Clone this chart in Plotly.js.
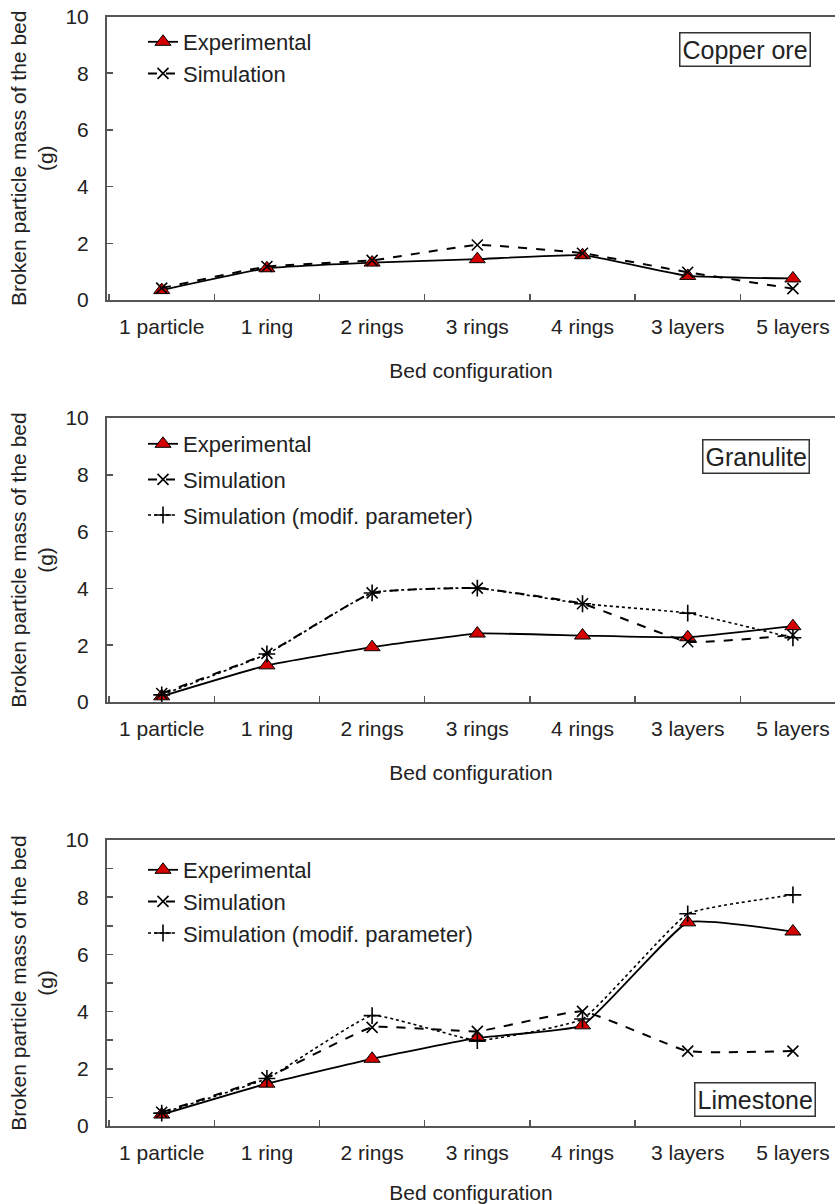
<!DOCTYPE html>
<html><head><meta charset="utf-8">
<script src="https://cdn.plot.ly/plotly-3.0.1.min.js"></script>
<style>html,body{margin:0;padding:0;background:#fff;}#chart{width:835px;height:1204px;}</style>
</head><body><div id="chart"></div>
<script>
const categories = ['1 particle', '1 ring', '2 rings', '3 rings', '4 rings', '3 layers', '5 layers'];

const copperExperimental = [0.35, 1.12, 1.32, 1.44, 1.58, 0.85, 0.76];
const copperSimulation   = [0.42, 1.18, 1.40, 1.94, 1.65, 0.98, 0.40];

const granuliteExperimental = [0.20, 1.29, 1.93, 2.41, 2.34, 2.28, 2.67];
const granuliteSimulation   = [0.30, 1.71, 3.84, 4.01, 3.46, 2.12, 2.36];
const granuliteModified     = [0.25, 1.69, 3.84, 4.01, 3.46, 3.13, 2.26];

const limestoneExperimental = [0.40, 1.48, 2.35, 3.08, 3.52, 7.12, 6.80];
const limestoneSimulation   = [0.48, 1.69, 3.45, 3.31, 4.01, 2.62, 2.62];
const limestoneModified     = [0.45, 1.66, 3.86, 2.99, 3.74, 7.42, 8.08];

const seriesNames = ['Experimental', 'Simulation', 'Simulation (modif. parameter)'];
const panelLabels = ['Copper ore', 'Granulite', 'Limestone'];
const xTitle = 'Bed configuration';
const yTitle = 'Broken particle mass of the bed<br>(g)';

const FONT = '"Liberation Sans", Arial, sans-serif';
const TXT = '#222';
const AX = '#555';
const H = 1204, W = 835, L = 107;
const SMOOTH = 0.35;
function ydom(top, bottom) { return [1 - bottom / H, 1 - top / H]; }
function px(xp) { return (xp - L) / (W - L); }
function py(yp) { return 1 - yp / H; }

function expTrace(y, xa, ya, lg) {
  return { x: categories, y: y, xaxis: xa, yaxis: ya, legend: lg, legendgroup: lg + 'a',
    name: seriesNames[0], mode: 'lines+markers',
    line: { color: '#000', width: 1.8, shape: 'spline', smoothing: SMOOTH },
    marker: { symbol: 'triangle-up', size: 14, color: '#d40000', line: { color: '#000', width: 1 } } };
}
function simTrace(y, xa, ya, lg) {
  return { x: categories, y: y, xaxis: xa, yaxis: ya, legend: lg, legendgroup: lg + 'b',
    name: seriesNames[1], mode: 'lines+markers',
    line: { color: '#000', width: 2, dash: 'dash', shape: 'spline', smoothing: SMOOTH },
    marker: { symbol: 'x-thin-open', size: 11, color: '#000', line: { color: '#000', width: 1.6 } } };
}
function modTrace(y, xa, ya, lg) {
  return { x: categories, y: y, xaxis: xa, yaxis: ya, legend: lg, legendgroup: lg + 'c',
    name: seriesNames[2], mode: 'lines+markers',
    line: { color: '#000', width: 1.6, dash: 'dot', shape: 'spline', smoothing: SMOOTH },
    marker: { symbol: 'cross-thin-open', size: 12, color: '#000', line: { color: '#000', width: 1.6 } } };
}

const traces = [
  expTrace(copperExperimental, 'x', 'y', 'legend'),
  simTrace(copperSimulation, 'x', 'y', 'legend'),
  expTrace(granuliteExperimental, 'x2', 'y2', 'legend2'),
  simTrace(granuliteSimulation, 'x2', 'y2', 'legend2'),
  modTrace(granuliteModified, 'x2', 'y2', 'legend2'),
  expTrace(limestoneExperimental, 'x3', 'y3', 'legend3'),
  simTrace(limestoneSimulation, 'x3', 'y3', 'legend3'),
  modTrace(limestoneModified, 'x3', 'y3', 'legend3')
];

function xaxis(anchor) {
  return { domain: [0, 1], anchor: anchor, type: 'category', range: [-0.52, 6.40],
    showline: true, mirror: true, linecolor: AX, linewidth: 2,
    ticks: 'inside', tickson: 'boundaries', ticklen: 6, tickcolor: AX, tickwidth: 1.5,
    showgrid: false, zeroline: false, automargin: false,
    tickfont: { size: 21, color: TXT, family: FONT }, ticklabelstandoff: 7,
    title: { text: xTitle, font: { size: 21, color: TXT, family: FONT }, standoff: 26 } };
}
function yaxis(anchor, dom, minor) {
  const a = { domain: dom, anchor: anchor, range: [0, 10], tick0: 0, dtick: 2,
    showline: true, mirror: false, linecolor: AX, linewidth: 2,
    ticks: 'inside', ticklen: 6, tickcolor: AX, tickwidth: 1.5,
    showgrid: false, zeroline: false, automargin: false,
    tickfont: { size: 21, color: TXT, family: FONT }, ticklabelstandoff: 12,
    title: { text: yTitle, font: { size: 21, color: TXT, family: FONT }, standoff: 6 } };
  if (minor) a.minor = { dtick: 1, ticks: 'inside', ticklen: 6, tickcolor: AX, tickwidth: 1.5, showgrid: false };
  return a;
}
function legend(xp, yp, gap) {
  return { x: px(xp), y: py(yp), xanchor: 'left', yanchor: 'top', bgcolor: 'rgba(0,0,0,0)',
    font: { size: 22, color: TXT, family: FONT }, tracegroupgap: gap, traceorder: 'grouped' };
}
function box(text, right, top) {
  return { xref: 'paper', yref: 'paper', x: px(right), y: py(top), xanchor: 'right', yanchor: 'top',
    text: text, showarrow: false, font: { size: 25, color: TXT, family: FONT },
    bordercolor: '#333', borderwidth: 1.5, borderpad: 2, bgcolor: '#fff' };
}

const layout = {
  width: W, height: H, margin: { l: L, r: 0, t: 0, b: 0 },
  paper_bgcolor: '#fff', plot_bgcolor: '#fff', showlegend: true,
  font: { family: FONT, color: TXT },
  xaxis: xaxis('y'), xaxis2: xaxis('y2'), xaxis3: xaxis('y3'),
  yaxis: yaxis('x', ydom(16.5, 300), false),
  yaxis2: yaxis('x2', ydom(418, 702), false),
  yaxis3: yaxis('x3', ydom(840, 1126), true),
  legend: legend(143, 21, 0),
  legend2: legend(143, 423, 4),
  legend3: legend(143, 849, 0),
  annotations: [
    box(panelLabels[0], 811, 32),
    box(panelLabels[1], 810, 439),
    box(panelLabels[2], 816, 1082)
  ]
};

Plotly.newPlot('chart', traces, layout, { displayModeBar: false, staticPlot: true });
</script></body></html>
